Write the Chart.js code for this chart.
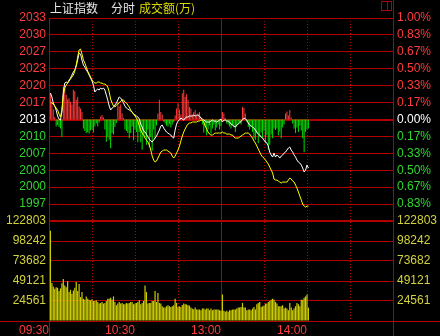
<!DOCTYPE html>
<html><head><meta charset="utf-8">
<script src="https://cdn.jsdelivr.net/npm/chart.js@4/dist/chart.umd.min.js"></script>
<style>html,body{margin:0;padding:0;background:#000;overflow:hidden}canvas{display:block}</style>
</head><body>
<canvas id="c" width="440" height="336"></canvas>
<script>
// ---- data ----
const basePrice = 2013.32; // previous close (0.00% line)
const indexLine = [
2018.57,2017.78,2016.59,2015.99,2015.20,2014.01,2013.41,2013.21,2014.80,2018.77,
2020.55,2020.75,2020.55,2021.15,2021.54,2022.14,2022.74,2023.13,2023.93,2025.12,
2026.50,2026.31,2025.12,2024.12,2023.73,2023.13,2022.74,2022.14,2021.54,2020.95,
2020.16,2018.77,2019.16,2019.36,2019.16,2019.56,2019.36,2019.56,2019.16,2018.17,
2017.18,2015.99,2015.20,2015.59,2015.79,2016.19,2016.59,2017.18,2017.78,2017.58,
2017.18,2016.59,2015.99,2015.59,2015.39,2015.20,2015.00,2014.80,2014.40,2014.20,
2014.01,2013.81,2013.41,2012.42,2011.82,2011.03,2010.83,2010.43,2009.84,2009.44,
2009.05,2008.85,2009.24,2009.64,2010.04,2010.63,2011.23,2012.02,2012.22,2011.62,
2011.23,2010.83,2010.63,2010.43,2010.24,2009.84,2009.64,2011.23,2012.42,2013.01,
2013.21,2013.61,2013.41,2013.21,2013.61,2013.81,2013.81,2014.01,2014.01,2014.01,
2014.20,2014.01,2014.20,2014.20,2014.01,2013.61,2013.41,2013.21,2013.01,2012.82,
2012.82,2012.82,2013.01,2013.21,2013.01,2013.01,2012.82,2013.01,2013.21,2013.41,
2012.82,2013.21,2013.21,2013.01,2013.01,2012.82,2012.42,2012.22,2012.02,2011.82,
2012.22,2012.42,2012.62,2013.01,2013.21,2013.61,2013.41,2013.21,2012.62,2012.22,
2012.02,2011.82,2011.62,2011.23,2010.83,2010.43,2010.24,2009.84,2009.64,2009.24,
2008.85,2008.65,2008.05,2006.86,2006.27,2005.87,2006.66,2005.87,2006.27,2006.07,
2005.67,2006.07,2006.27,2006.66,2006.86,2007.26,2007.66,2007.86,2007.26,2006.86,
2006.27,2005.87,2005.28,2004.88,2004.68,2004.28,2003.69,2002.90,2003.29,2004.28,
2003.69];
const avgLine = [
2016.78,2016.59,2016.39,2015.99,2015.59,2015.20,2014.40,2013.81,2015.20,2018.17,
2019.56,2020.16,2020.55,2020.95,2021.35,2021.74,2022.14,2022.93,2024.12,2025.71,
2027.10,2027.30,2026.31,2025.12,2024.52,2023.73,2022.93,2022.34,2021.74,2021.15,
2020.75,2020.55,2020.55,2020.75,2020.75,2020.55,2020.55,2020.35,2020.35,2020.16,
2019.76,2018.77,2017.38,2016.59,2015.99,2015.79,2016.19,2016.39,2016.59,2016.98,
2017.18,2017.18,2016.78,2016.59,2016.19,2015.79,2015.20,2014.80,2014.40,2014.01,
2013.61,2013.01,2012.02,2011.23,2010.63,2010.24,2009.64,2009.24,2008.85,2008.25,
2007.26,2006.07,2005.28,2004.88,2005.08,2005.67,2006.27,2006.86,2007.06,2007.26,
2007.26,2007.26,2007.06,2006.86,2006.66,2006.07,2005.67,2006.07,2006.66,2007.26,
2008.05,2009.05,2010.04,2010.83,2011.43,2012.02,2012.42,2012.62,2012.62,2012.82,
2012.82,2012.82,2012.82,2013.01,2013.01,2013.21,2013.21,2012.82,2012.02,2011.43,
2010.83,2010.43,2010.24,2010.24,2010.43,2010.63,2010.63,2010.63,2010.63,2010.63,
2010.83,2010.63,2010.63,2010.43,2010.43,2010.43,2010.24,2010.24,2009.84,2009.64,
2009.64,2009.64,2009.84,2010.04,2010.24,2010.43,2010.63,2010.63,2010.63,2010.43,
2010.04,2009.64,2009.05,2008.65,2008.05,2007.46,2006.86,2006.27,2005.87,2005.67,
2005.28,2004.88,2004.48,2003.89,2003.29,2002.70,2001.51,2001.31,2001.31,2001.11,
2000.91,2000.71,2000.91,2000.91,2000.91,2000.91,2001.31,2001.70,2001.51,2001.11,
2000.91,2000.32,1999.72,1998.93,1998.13,1997.34,1996.55,1996.15,1995.95,1996.15,
1996.15];
const strengthBars = [
5.2,3.5,2.0,0.5,-1.4,-1.1,-1.5,-1.8,-3.4,6.5,
6.2,4.9,4.0,4.2,3.5,3.0,5.9,5.6,3.9,4.5,
2.6,2.2,1.5,-1.8,-2.3,-2.7,-2.5,-2.8,-2.2,-2.0,
-2.6,-1.4,-0.8,-1.4,-0.6,0.6,0.9,0.4,-2.0,-4.4,
-3.4,-4.0,-5.7,-2.7,-3.0,-1.5,-0.7,3.5,2.6,3.0,
1.2,0.3,-2.0,-2.3,-2.7,-3.7,-2.7,-1.4,-4.1,-2.0,
-2.5,-4.5,-2.5,-4.5,-6.0,-3.0,-3.5,-5.0,-2.0,-5.5,
-3.5,-6.2,-2.0,-3.8,-1.2,1.2,3.9,1.5,1.0,-0.4,
-0.8,-1.2,-1.4,-0.9,-1.6,-1.0,-0.5,0.8,2.2,3.2,
2.0,1.0,5.2,5.9,4.5,5.0,3.9,2.5,2.2,1.0,
1.5,1.9,0.8,1.2,1.5,0.5,-1.0,-2.6,-1.5,-3.1,
-2.0,-1.2,-2.8,-1.8,-1.0,-2.2,-1.6,-1.0,-2.0,-1.3,
1.5,1.2,0.3,-0.8,-1.0,-1.4,-1.8,-1.2,-1.6,-2.5,
-1.4,-0.9,-0.6,-1.0,2.5,2.3,1.2,-0.5,-1.5,-2.0,
-1.4,-2.5,-3.7,-4.0,-2.8,-4.7,-3.4,-2.6,-3.7,-2.2,
-4.7,-3.1,-6.0,-5.0,-3.0,-3.7,-1.8,-2.1,-1.8,-3.1,
-2.4,-3.7,-1.6,-1.0,1.2,1.6,0.8,1.9,0.4,-0.8,
-1.8,-2.7,-1.6,-2.5,-1.2,-2.2,-3.7,-6.5,-2.5,-2.0,
-1.8];
const turnover = [
110900,46700,42300,39500,41500,40700,36700,40000,46300,51600,
43500,41500,48800,35500,38300,33400,37500,40700,48000,36700,
45500,29400,35500,27400,26200,30200,27400,26200,25400,26600,
24600,24600,25400,23400,21400,22200,23400,21400,22200,24600,
27400,27400,28600,26000,30200,23400,19300,21400,23400,21400,
22200,20600,20600,22200,21400,22000,23400,23400,20600,21400,
22200,23400,25400,20600,22200,24600,43500,35500,21400,22200,
22200,24600,24600,36700,23400,34300,22200,21400,18100,16500,
16500,18100,19300,18100,17300,18100,19300,27400,22200,17300,
18100,17300,19700,21400,20600,20200,19300,18900,16500,14900,
14500,16500,14100,14100,14100,13300,15300,15300,14100,15300,
15300,13300,15300,13300,14100,14100,14100,14100,13300,12500,
32600,12500,11300,12500,11300,13300,13300,14100,14100,14100,
15300,16500,16500,17300,22200,16500,16500,13300,14100,14100,
13300,15300,17300,14100,20600,22200,23400,17300,18100,18900,
21400,21400,23400,24600,26200,27400,26200,23400,21400,18100,
18100,18100,19300,15300,16500,15300,13300,22200,16500,13300,
15300,18100,22200,20600,18100,26200,26200,28700,30200,32600,
16500];
const priceTickLabels = ['2033','2030','2027','2023','2020','2017','2013','2010','2007','2003','2000','1997',''];
const pctTickLabels = ['1.00%','0.83%','0.67%','0.50%','0.33%','0.17%','0.00%','0.17%','0.33%','0.50%','0.67%','0.83%',''];
const volTickValues = [122803,98242,73682,49121,24561,0];
const volTickLabels = ['122803','98242','73682','49121','24561',''];
const timeTickMinutes = [0,30,60,90,120,150,180,210,240];
const timeTickLabels = ['09:30','','10:30','','13:00','','14:00','',''];

// ---- styling ----
const GRID = '#b00000', RED = '#ff3c3c', GREEN = '#2fd62f', YEL = '#d2d23c';
const FONT = {family: 'Liberation Sans', size: 12};
const pMax = basePrice * 1.01, pMin = basePrice * 0.99;
const priceTickValues = priceTickLabels.map((_, i) => basePrice * (1 + (6 - i) / 600));
const priceColor = i => i < 6 ? RED : (i === 6 ? '#ffffff' : GREEN);
const slot = i => i + 1; // each minute's record is plotted at the end of its minute

const deco = {
  id: 'deco',
  beforeDraw(chart) {
    const c = chart.ctx; c.save(); c.fillStyle = '#000'; c.fillRect(0, 0, chart.width, chart.height); c.restore();
  },
  afterDraw(chart) {
    const c = chart.ctx, a = chart.chartArea;
    c.save();
    c.font = '12px "Noto Sans CJK SC"'; c.textBaseline = 'middle'; c.textAlign = 'left';
    c.fillStyle = '#e6e6e6'; c.fillText('上证指数', 50, 8); c.fillText('分时', 111, 8);
    c.fillStyle = '#dcdc00'; c.fillText('成交额(万)', 139, 8);
    c.strokeStyle = GRID; c.lineWidth = 1;
    c.strokeRect(381.5, 1.5, 10, 9);
    c.beginPath(); c.moveTo(387.5, 1.5); c.lineTo(387.5, 10.5);
    c.moveTo(0, a.bottom + 0.5); c.lineTo(chart.width, a.bottom + 0.5);
    c.moveTo(a.left + 0.5, a.bottom); c.lineTo(a.left + 0.5, chart.height);
    c.moveTo(a.right + 0.5, 0); c.lineTo(a.right + 0.5, a.top);
    c.moveTo(a.right + 0.5, a.bottom); c.lineTo(a.right + 0.5, chart.height);
    c.stroke();
    c.restore();
  }
};

new Chart(document.getElementById('c'), {
  type: 'line',
  data: {
    datasets: [
      {type: 'line', data: avgLine.map((v, i) => ({x: slot(i), y: v})), yAxisID: 'yP', borderColor: '#ffff00', borderWidth: 1, pointRadius: 0, tension: 0, order: 0},
      {type: 'line', data: indexLine.map((v, i) => ({x: slot(i), y: v})), yAxisID: 'yP', borderColor: '#ffffff', borderWidth: 1, pointRadius: 0, tension: 0, order: 1},
      {type: 'bar', data: strengthBars.map((d, i) => ({x: slot(i), y: [basePrice, basePrice + d]})), yAxisID: 'yP', grouped: false, barThickness: 1, inflateAmount: 0,
        backgroundColor: ctx => strengthBars[ctx.dataIndex] >= 0 ? '#ff3c3c' : '#00e000', borderWidth: 0, order: 2},
      {type: 'bar', data: turnover.map((v, i) => ({x: slot(i), y: v})), yAxisID: 'yV', grouped: false, barThickness: 1.2, inflateAmount: 0,
        backgroundColor: '#cccc00', borderWidth: 0, order: 3}
    ]
  },
  options: {
    responsive: false, animation: false, devicePixelRatio: 1,
    layout: {padding: {top: 18, left: 0, right: 0, bottom: 0}},
    plugins: {legend: {display: false}, tooltip: {enabled: false}, title: {display: false}},
    scales: {
      x: {
        type: 'linear', position: 'bottom', min: 0, max: 240, offset: false,
        afterBuildTicks: s => { s.ticks = timeTickMinutes.map(v => ({value: v})); },
        afterFit: s => { s.height = 15; },
        ticks: {autoSkip: false, maxRotation: 0, align: 'end', color: RED, font: FONT, padding: 2,
          callback: (v, i) => timeTickLabels[i]},
        grid: {color: GRID, lineWidth: 1, drawTicks: false, offset: false},
        border: {display: true, color: GRID, width: 1,
          dash: ctx => (ctx.tick && ctx.tick.value % 120 !== 0) ? [1, 2] : []}
      },
      yP: {
        type: 'linear', position: 'left', stack: 'L', stackWeight: 203, weight: 1,
        min: pMin, max: pMax,
        afterBuildTicks: s => { s.ticks = priceTickValues.map(v => ({value: v})); },
        afterFit: s => { s.width = 49; },
        ticks: {autoSkip: false, font: FONT, padding: 3, color: ctx => priceColor(ctx.index),
          callback: (v, i) => priceTickLabels[i]},
        grid: {color: GRID, drawTicks: false, lineWidth: ctx => (ctx.index === 6 || ctx.index === 12) ? 2 : 1},
        border: {display: true, color: GRID, width: 1}
      },
      yV: {
        type: 'linear', position: 'left', stack: 'L', stackWeight: 100, weight: 0,
        min: 0, max: 122803,
        afterBuildTicks: s => { s.ticks = volTickValues.map(v => ({value: v})); },
        afterFit: s => { s.width = 49; },
        ticks: {autoSkip: false, font: FONT, padding: 3, color: YEL, callback: (v, i) => volTickLabels[i]},
        grid: {color: GRID, drawTicks: false, lineWidth: ctx => ctx.index === 0 ? 2 : 1},
        border: {display: true, color: GRID, width: 1}
      },
      yPct: {
        type: 'linear', position: 'right', stack: 'R', stackWeight: 203, weight: 0,
        min: pMin, max: pMax,
        afterBuildTicks: s => { s.ticks = priceTickValues.map(v => ({value: v})); },
        afterFit: s => { s.width = 47; },
        ticks: {autoSkip: false, font: FONT, padding: 4, color: ctx => priceColor(ctx.index),
          callback: (v, i) => pctTickLabels[i]},
        grid: {display: false, drawTicks: false},
        border: {display: true, color: GRID, width: 1}
      },
      yV2: {
        type: 'linear', position: 'right', stack: 'R', stackWeight: 100, weight: 1,
        min: 0, max: 122803,
        afterBuildTicks: s => { s.ticks = volTickValues.map(v => ({value: v})); },
        afterFit: s => { s.width = 47; },
        ticks: {autoSkip: false, font: FONT, padding: 4, color: YEL, callback: (v, i) => volTickLabels[i]},
        grid: {display: false, drawTicks: false},
        border: {display: true, color: GRID, width: 1}
      }
    }
  },
  plugins: [deco]
});
</script>
</body></html>
